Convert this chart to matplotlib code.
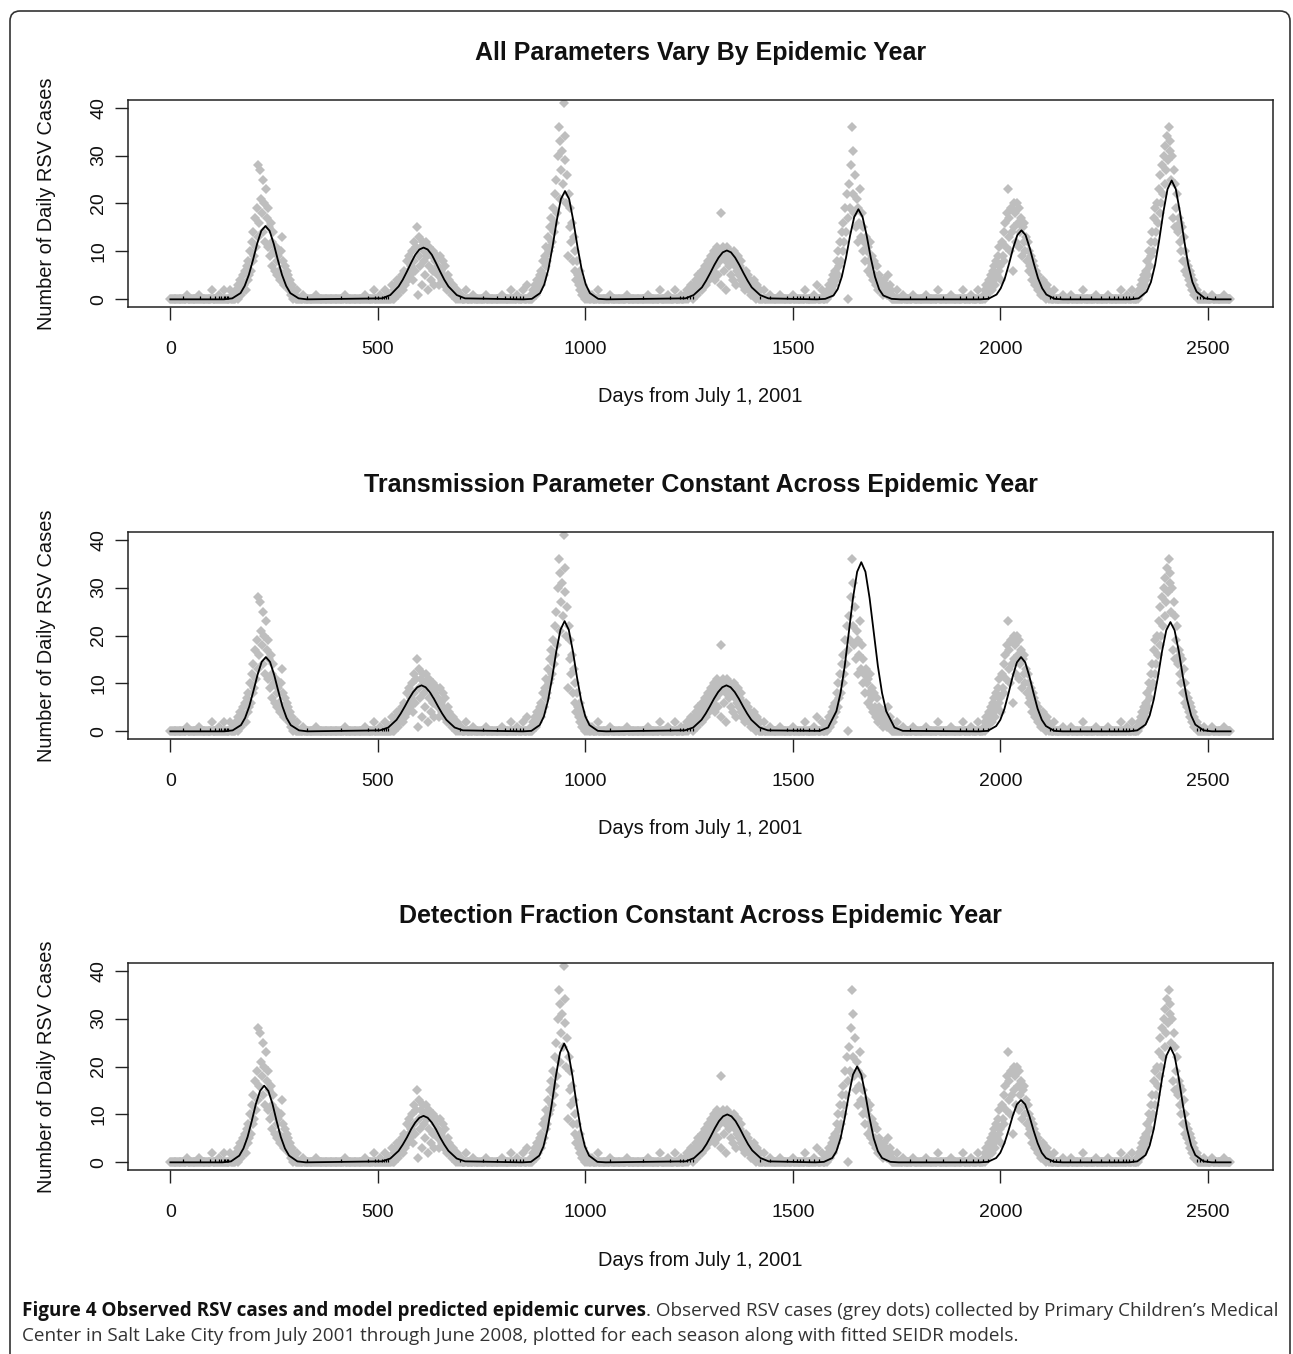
import numpy as np
import matplotlib.pyplot as plt
from matplotlib.patches import FancyBboxPatch
from matplotlib.transforms import IdentityTransform

plt.rcParams['font.family'] = ['Liberation Sans', 'DejaVu Sans']

W, H = 1293, 1354

# observed daily RSV cases, read every 2nd day inside each season window
season_starts = [160, 540, 870, 1240, 1580, 1960, 2330]
obs_0102 = [1, 3, 0, 2, 4, 1, 3, 2, 5, 3, 6, 2, 7, 4, 8, 5, 10, 6, 12, 8,
            14, 9, 17, 11, 19, 13, 28, 16, 27, 21, 18, 25, 14, 20, 12, 23, 17, 11, 19, 15,
            9, 16, 12, 7, 14, 10, 6, 11, 8, 5, 9, 6, 4, 10, 13, 5, 8, 3, 7, 4,
            6, 3, 5, 2, 4, 1, 3, 2, 0, 2, 1]
obs_0203 = [2, 1, 3, 4, 1, 2, 4, 2, 3, 5, 2, 4, 6, 3, 5, 8, 4, 6, 9, 5,
            7, 10, 4, 12, 8, 6, 11, 15, 1, 9, 13, 7, 11, 3, 12, 8, 10, 5, 12, 9,
            2, 11, 7, 10, 4, 9, 6, 10, 3, 8, 6, 9, 5, 7, 3, 9, 6, 4, 8, 5,
            3, 7, 4, 2, 5, 3, 4, 2, 3, 1, 3, 2, 1, 2, 0, 2, 1, 0, 1, 0, 1]
obs_0304 = [1, 0, 2, 1, 3, 1, 2, 4, 2, 3, 5, 3, 6, 4, 8, 5, 9, 7, 11, 8,
            13, 10, 15, 11, 17, 12, 19, 14, 22, 16, 25, 18, 30, 36, 21, 33, 27, 31, 24, 41,
            29, 34, 20, 26, 9, 22, 15, 19, 12, 16, 8, 13, 6, 10, 4, 8, 5, 3, 6, 2,
            4, 1, 3, 2, 0, 2, 1, 0, 1, 0, 1]
obs_0405 = [1, 0, 2, 1, 0, 2, 1, 3, 1, 2, 0, 3, 2, 4, 1, 3, 5, 2, 4, 3,
            6, 2, 5, 4, 7, 3, 6, 5, 8, 4, 7, 9, 5, 8, 6, 10, 4, 9, 7, 11,
            5, 10, 8, 3, 18, 9, 11, 6, 10, 8, 2, 11, 9, 7, 10, 5, 9, 8, 4, 10,
            7, 3, 8, 6, 9, 5, 7, 4, 8, 3, 6, 5, 2, 6, 4, 3, 5, 2, 4, 3,
            1, 3, 2, 4, 1, 2, 0, 3, 1, 0, 2]
obs_0506 = [1, 0, 2, 1, 3, 1, 2, 4, 2, 5, 3, 6, 4, 8, 5, 10, 7, 12, 8, 14,
            10, 16, 12, 19, 14, 22, 17, 0, 24, 19, 28, 36, 22, 31, 18, 26, 15, 21, 12, 19,
            16, 23, 13, 18, 10, 15, 12, 8, 13, 10, 6, 11, 8, 12, 5, 9, 7, 4, 8, 5,
            3, 7, 4, 2, 5, 3, 4, 2, 3, 1, 4, 2, 3, 1, 2, 5, 1, 3, 2, 0, 1]
obs_0607 = [1, 2, 0, 3, 1, 2, 4, 2, 3, 5, 2, 6, 4, 7, 3, 8, 5, 9, 6, 11,
            7, 4, 12, 9, 14, 8, 16, 11, 18, 23, 13, 17, 10, 19, 14, 6, 20, 15, 18, 12,
            20, 16, 11, 19, 14, 17, 9, 15, 12, 16, 10, 13, 8, 12, 6, 10, 7, 9, 4, 8,
            5, 7, 3, 6, 4, 5, 2, 4, 3, 1, 3, 2, 4, 1, 2, 0, 3, 1, 2, 0, 1]
obs_0708 = [1, 0, 2, 1, 3, 2, 4, 2, 5, 3, 6, 4, 8, 5, 10, 7, 12, 9, 14, 10,
            17, 12, 19, 14, 20, 16, 23, 18, 26, 20, 28, 22, 30, 24, 32, 27, 34, 29, 36, 31,
            33, 25, 30, 17, 27, 15, 24, 19, 22, 14, 17, 12, 16, 10, 15, 8, 13, 6, 10, 8,
            5, 7, 4, 6, 3, 5, 2, 4, 1, 3, 2, 1, 2, 0, 1, 0]
season_obs = [obs_0102, obs_0203, obs_0304, obs_0405, obs_0506, obs_0607, obs_0708]

# scattered small counts between the seasons
offseason_days = [40, 70, 100, 118, 130, 144, 152, 158, 306, 320, 350, 420, 470, 490, 504,
                  516, 526, 534, 712, 730, 760, 800, 820, 836, 850, 860, 1016, 1030, 1060,
                  1100, 1150, 1180, 1200, 1216, 1230, 1430, 1446, 1470, 1500, 1530, 1550,
                  1558, 1570, 1752, 1766, 1790, 1820, 1850, 1880, 1910, 1930, 1946, 2130,
                  2150, 2170, 2200, 2230, 2260, 2290, 2306, 2318, 2490, 2510, 2540]
offseason_counts = [1, 1, 2, 1, 2, 2, 1, 2, 2, 1, 1, 1, 1, 2, 1,
                    2, 1, 3, 2, 1, 1, 1, 2, 1, 2, 3, 1, 2, 1,
                    1, 1, 2, 1, 2, 1, 2, 1, 1, 1, 2, 1,
                    3, 2, 2, 1, 1, 1, 2, 1, 2, 1, 2, 2,
                    1, 1, 2, 1, 1, 2, 1, 2, 1, 1, 1]
last_day = 2555

# fitted SEIDR curves, read at these offsets (days) from each season's peak
fit_offsets = [-100, -80, -60, -50, -40, -30, -20, -10, 0, 10, 20, 30, 40, 50, 60, 80, 100]

peaks_all_vary = [229, 610, 951, 1341, 1658, 2051, 2413]
fit_all_vary = [
    [0.0, 0.2, 1.3, 2.8, 5.1, 8.2, 11.6, 14.3, 15.3, 14.3, 11.6, 8.2, 5.1, 2.8, 1.3, 0.2, 0.0],
    [0.2, 0.9, 2.7, 4.1, 5.8, 7.6, 9.3, 10.4, 10.8, 10.4, 9.3, 7.6, 5.8, 4.1, 2.7, 0.9, 0.2],
    [0.0, 0.1, 1.3, 3.1, 6.3, 11.0, 16.4, 20.9, 22.6, 20.9, 16.4, 11.0, 6.3, 3.1, 1.3, 0.1, 0.0],
    [0.2, 0.9, 2.5, 3.9, 5.5, 7.2, 8.7, 9.8, 10.2, 9.8, 8.7, 7.2, 5.5, 3.9, 2.5, 0.9, 0.2],
    [0.0, 0.1, 0.8, 2.1, 4.7, 8.6, 13.3, 17.2, 18.8, 17.2, 13.3, 8.6, 4.7, 2.1, 0.8, 0.1, 0.0],
    [0.0, 0.1, 1.0, 2.3, 4.4, 7.4, 10.7, 13.4, 14.4, 13.4, 10.7, 7.4, 4.4, 2.3, 1.0, 0.1, 0.0],
    [0.0, 0.2, 1.6, 3.6, 7.2, 12.4, 18.2, 23.0, 24.8, 23.0, 18.2, 12.4, 7.2, 3.6, 1.6, 0.2, 0.0],
]
peaks_const_beta = [230, 605, 950, 1340, 1665, 2050, 2410]
fit_const_beta = [
    [0.0, 0.2, 1.3, 2.8, 5.2, 8.4, 11.8, 14.5, 15.5, 14.5, 11.8, 8.4, 5.2, 2.8, 1.3, 0.2, 0.0],
    [0.2, 0.8, 2.4, 3.7, 5.2, 6.8, 8.2, 9.2, 9.6, 9.2, 8.2, 6.8, 5.2, 3.7, 2.4, 0.8, 0.2],
    [0.0, 0.1, 1.3, 3.1, 6.4, 11.2, 16.7, 21.2, 23.0, 21.2, 16.7, 11.2, 6.4, 3.1, 1.3, 0.1, 0.0],
    [0.2, 0.8, 2.4, 3.7, 5.2, 6.8, 8.2, 9.2, 9.6, 9.2, 8.2, 6.8, 5.2, 3.7, 2.4, 0.8, 0.2],
    [0.1, 0.8, 4.2, 8.0, 13.6, 20.7, 27.8, 33.3, 35.3, 33.3, 27.8, 20.7, 13.6, 8.0, 4.2, 0.8, 0.1],
    [0.0, 0.1, 1.1, 2.4, 4.7, 8.0, 11.5, 14.4, 15.5, 14.4, 11.5, 8.0, 4.7, 2.4, 1.1, 0.1, 0.0],
    [0.0, 0.2, 1.4, 3.3, 6.7, 11.4, 16.8, 21.1, 22.8, 21.1, 16.8, 11.4, 6.7, 3.3, 1.4, 0.2, 0.0],
]
peaks_const_rho = [226, 610, 949, 1342, 1655, 2050, 2410]
fit_const_rho = [
    [0.0, 0.2, 1.4, 2.9, 5.3, 8.6, 12.2, 14.9, 16.0, 14.9, 12.2, 8.6, 5.3, 2.9, 1.4, 0.2, 0.0],
    [0.2, 0.8, 2.4, 3.7, 5.2, 6.9, 8.3, 9.3, 9.7, 9.3, 8.3, 6.9, 5.2, 3.7, 2.4, 0.8, 0.2],
    [0.0, 0.1, 1.4, 3.3, 6.9, 12.1, 18.0, 22.9, 24.8, 22.9, 18.0, 12.1, 6.9, 3.3, 1.4, 0.1, 0.0],
    [0.2, 0.9, 2.5, 3.8, 5.4, 7.1, 8.6, 9.6, 10.0, 9.6, 8.6, 7.1, 5.4, 3.8, 2.5, 0.9, 0.2],
    [0.0, 0.1, 0.9, 2.3, 5.0, 9.2, 14.1, 18.3, 20.0, 18.3, 14.1, 9.2, 5.0, 2.3, 0.9, 0.1, 0.0],
    [0.0, 0.1, 0.9, 2.0, 4.0, 6.7, 9.7, 12.1, 13.0, 12.1, 9.7, 6.7, 4.0, 2.0, 0.9, 0.1, 0.0],
    [0.0, 0.2, 1.5, 3.5, 7.0, 12.0, 17.6, 22.2, 24.0, 22.2, 17.6, 12.0, 7.0, 3.5, 1.5, 0.2, 0.0],
]

# tiny blips of the fitted line along the zero baseline
blip_days = [31, 72, 96, 108, 116, 122, 128, 132, 136, 140, 330, 410, 477, 493, 501, 510,
             515, 520, 525, 698, 754, 786, 806, 818, 826, 834, 842, 850, 1060, 1139, 1204,
             1228, 1236, 1244, 1252, 1260, 1421, 1445, 1485, 1501, 1509, 1517, 1525, 1540,
             1552, 1564, 1782, 1822, 1862, 1902, 1918, 1934, 1946, 1958, 1970, 2119, 2127,
             2135, 2143, 2167, 2191, 2219, 2243, 2263, 2275, 2283, 2295, 2303, 2311, 2319,
             2473, 2481, 2489, 2497, 2517]

panels = [
    ("All Parameters Vary By Epidemic Year", peaks_all_vary, fit_all_vary, 100),
    ("Transmission Parameter Constant Across Epidemic Year", peaks_const_beta, fit_const_beta, 532),
    ("Detection Fraction Constant Across Epidemic Year", peaks_const_rho, fit_const_rho, 963),
]

# observed counts on a 2-day grid
days = np.arange(0, last_day + 1, 2)
counts = np.zeros(len(days))
for start, vals in zip(season_starts, season_obs):
    i0 = start // 2
    counts[i0:i0 + len(vals)] = vals
for d, c in zip(offseason_days, offseason_counts):
    counts[d // 2] = c

fig = plt.figure(figsize=(W / 100, H / 100), dpi=100)

frame = FancyBboxPatch((10, -20), 1280, H - 11 + 20, boxstyle="round,pad=0,rounding_size=10",
                       transform=IdentityTransform(), facecolor='none', edgecolor='#333333',
                       linewidth=1.2)
fig.patches.append(frame)

ax_left, ax_right, ax_h = 128, 1273, 207
for title, peaks, fits, top in panels:
    ax = fig.add_axes([ax_left / W, 1 - (top + ax_h) / H, (ax_right - ax_left) / W, ax_h / H])
    ax.plot(days, counts, linestyle='none', marker='D', markersize=5.0,
            markerfacecolor='#bebebe', markeredgewidth=0, zorder=1)
    fx, fy = [0], [0]
    for p, vals in zip(peaks, fits):
        fx += [p + o for o in fit_offsets]
        fy += vals
    fx.append(last_day)
    fy.append(0)
    ax.plot(fx, fy, color='black', linewidth=1.3, zorder=3)
    ax.vlines(blip_days, 0, 0.7, color='black', linewidth=0.9, zorder=3)

    ax.set_xlim(-102.2, 2657.2)
    ax.set_ylim(-1.6, 41.6)
    ax.set_xticks([0, 500, 1000, 1500, 2000, 2500])
    ax.set_yticks([0, 10, 20, 30, 40])
    for s in ax.spines.values():
        s.set_color('#222222')
        s.set_linewidth(1.1)
    ax.tick_params(length=9.4, width=1.0, color='#222222', labelsize=14, labelcolor='#111111')
    ax.tick_params(axis='x', pad=15)
    ax.tick_params(axis='y', pad=5.5)
    for lab in ax.get_yticklabels():
        lab.set_rotation(90)
        lab.set_va('center')

    cx = (ax_left + ax_right) / 2
    fig.text(cx / W, 1 - (top - 47) / H, title, ha='center', va='center',
             fontsize=18, fontweight='bold', color='#111111')
    fig.text(cx / W, 1 - (top + 297) / H, "Days from July 1, 2001", ha='center', va='center',
             fontsize=14.4, color='#111111')
    fig.text(46 / W, 1 - (top + ax_h / 2) / H, "Number of Daily RSV Cases", ha='center',
             va='center', rotation=90, fontsize=14.4, color='#111111')

# caption: bold lead-in followed by normal text
cap_bold = "Figure 4 Observed RSV cases and model predicted epidemic curves"
cap_rest = (". Observed RSV cases (grey dots) collected by Primary Children\u2019s Medical")
cap_line2 = ("Center in Salt Lake City from July 2001 through June 2008, plotted for each "
             "season along with fitted SEIDR models.")
renderer = fig.canvas.get_renderer()
size = 12.0
t1 = fig.text(22 / W, 1 - 1316 / H, cap_bold, family='Open Sans', fontweight='bold',
              fontsize=size, va='baseline', color='#111111')
t2 = fig.text(0, 1 - 1316 / H, cap_rest, family='Open Sans', fontsize=size, va='baseline',
              color='#333333')
w_total = t1.get_window_extent(renderer).width + t2.get_window_extent(renderer).width
size = size * (1272 - 22) / w_total
t1.set_fontsize(size)
t2.set_fontsize(size)
t2.set_x(t1.get_window_extent(renderer).x1 / W)
fig.text(22 / W, 1 - 1341 / H, cap_line2, family='Open Sans', fontsize=size, va='baseline',
         color='#333333')

fig.savefig('out.png', dpi=100)
